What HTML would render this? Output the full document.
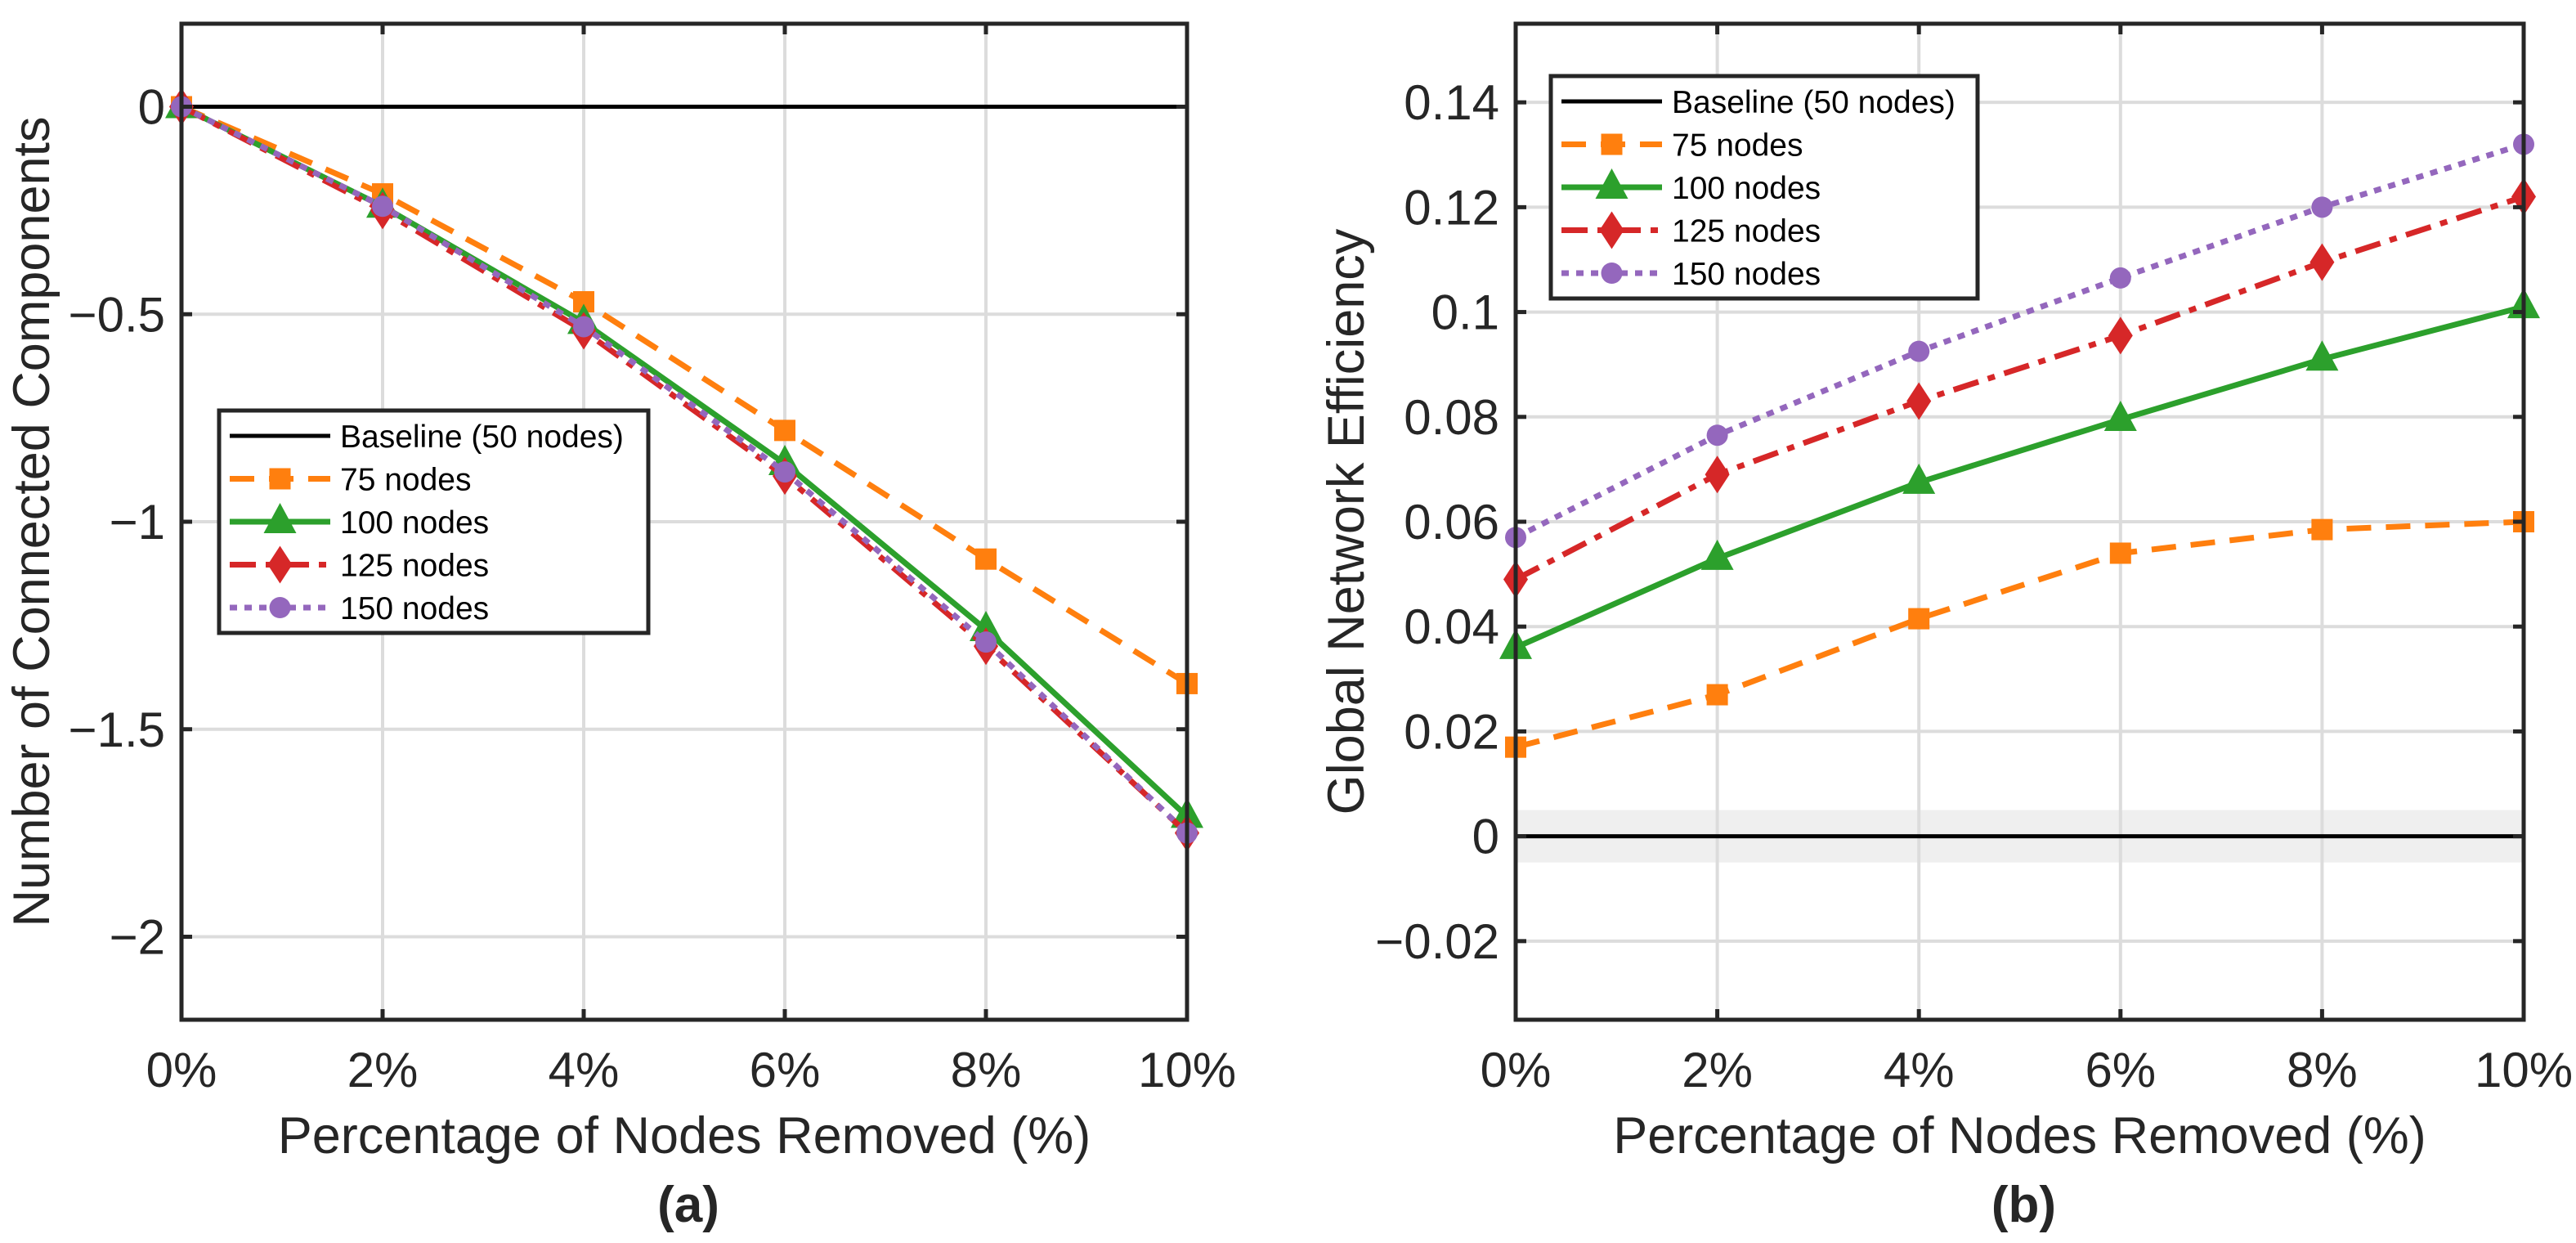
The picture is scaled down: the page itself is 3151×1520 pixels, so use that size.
<!DOCTYPE html>
<html><head><meta charset="utf-8"><style>
html,body{margin:0;padding:0;background:#fff}
svg{display:block;font-family:"Liberation Sans",Arial,sans-serif}
</style></head><body>
<svg id="fig" width="3151" height="1520" viewBox="0 0 3151 1520" xmlns="http://www.w3.org/2000/svg"></svg>
<script>
const xCats = [0, 2, 4, 6, 8, 10];
const xTickLabels = ['0%','2%','4%','6%','8%','10%'];
const seriesNames = ['75 nodes','100 nodes','125 nodes','150 nodes'];
// Panel (a)
const aTicks = [0, -0.5, -1, -1.5, -2];
const aTickLabels = ['0','\u22120.5','\u22121','\u22121.5','\u22122'];
const a75 = [0, -0.21, -0.47, -0.78, -1.09, -1.39];
const a100 = [0, -0.24, -0.52, -0.86, -1.26, -1.71];
const a125 = [0, -0.25, -0.54, -0.89, -1.30, -1.75];
const a150 = [0, -0.24, -0.53, -0.88, -1.29, -1.75];
// Panel (b)
const bTicks = [0.14, 0.12, 0.1, 0.08, 0.06, 0.04, 0.02, 0, -0.02];
const bTickLabels = ['0.14','0.12','0.1','0.08','0.06','0.04','0.02','0','\u22120.02'];
const b75 = [0.017, 0.027, 0.0415, 0.054, 0.0585, 0.060];
const b100 = [0.036, 0.053, 0.0675, 0.0795, 0.091, 0.101];
const b125 = [0.049, 0.069, 0.083, 0.0955, 0.1095, 0.122];
const b150 = [0.057, 0.0765, 0.0925, 0.1065, 0.120, 0.132];

const NS='http://www.w3.org/2000/svg';
const svg=document.getElementById('fig');
function mk(tag,attrs,parent){const e=document.createElementNS(NS,tag);for(const k in attrs)e.setAttribute(k,attrs[k]);(parent||svg).appendChild(e);return e;}
const styles=[
 {color:'#ff7f0e',dash:'30 18',marker:'square'},
 {color:'#2ca02c',dash:'',marker:'triangle'},
 {color:'#d62728',dash:'32 12 9 12',marker:'diamond'},
 {color:'#9467bd',dash:'9 9',marker:'circle'}];
function marker(g,type,x,y,color){
 let e;
 if(type==='square') e=mk('rect',{x:x-13,y:y-13,width:26,height:26,fill:color},g);
 else if(type==='triangle') e=mk('polygon',{points:`${x},${y-23} ${x-20},${y+14} ${x+20},${y+14}`,fill:color},g);
 else if(type==='diamond') e=mk('polygon',{points:`${x},${y-23} ${x-15},${y} ${x},${y+23} ${x+15},${y}`,fill:color},g);
 else e=mk('circle',{cx:x,cy:y,r:13,fill:color},g);
 
 
}
function panel(opt){
 const {L,R,T,B,ymin,ymax,ticks,tickLabels,series,ylabel,tag,legX,legY,legW,band,name}=opt;
 const g=mk('g',{});
 
 
 const sx=v=>L+(v-0)/(10-0)*(R-L);
 const sy=v=>T+(ymax-v)/(ymax-ymin)*(B-T);
 if(band){const r=mk('rect',{x:L,y:sy(band),width:R-L,height:sy(-band)-sy(band),fill:'#efefef'},g);
  }
 xCats.forEach(c=>{const l=mk('line',{x1:sx(c),x2:sx(c),y1:T,y2:B,stroke:'#dcdcdc','stroke-width':4},g);
  });
 ticks.forEach(t=>{const l=mk('line',{x1:L,x2:R,y1:sy(t),y2:sy(t),stroke:'#dcdcdc','stroke-width':4},g);
  });
 const bl=mk('line',{x1:L,x2:R,y1:sy(0),y2:sy(0),stroke:'#000','stroke-width':5},g);
 
 series.forEach((vals,i)=>{
  const st=styles[i];
  const pts=vals.map((v,j)=>sx(xCats[j])+','+sy(v)).join(' ');
  const pl=mk('polyline',{points:pts,fill:'none',stroke:st.color,'stroke-width':7,'stroke-dasharray':st.dash,'stroke-linejoin':'round'},g);
  
  
  vals.forEach((v,j)=>marker(g,st.marker,sx(xCats[j]),sy(v),st.color));
 });
 const bx=mk('rect',{x:L,y:T,width:R-L,height:B-T,fill:'none',stroke:'#262626','stroke-width':5},g);
 
 xCats.forEach((c,i)=>{
  mk('line',{x1:sx(c),x2:sx(c),y1:B,y2:B-13,stroke:'#262626','stroke-width':5},g);
  mk('line',{x1:sx(c),x2:sx(c),y1:T,y2:T+13,stroke:'#262626','stroke-width':5},g);
  const t=mk('text',{x:sx(c),y:B+82,'font-size':60,fill:'#262626','text-anchor':'middle'},g);
  t.textContent=xTickLabels[i];
  
 });
 ticks.forEach((v,i)=>{
  mk('line',{x1:L,x2:L+13,y1:sy(v),y2:sy(v),stroke:'#262626','stroke-width':5},g);
  mk('line',{x1:R,x2:R-13,y1:sy(v),y2:sy(v),stroke:'#262626','stroke-width':5},g);
  const t=mk('text',{x:L-20,y:sy(v)+21,'font-size':60,fill:'#262626','text-anchor':'end'},g);
  t.textContent=tickLabels[i];
  
 });
 const xt=mk('text',{x:(L+R)/2,y:1410,'font-size':63,fill:'#262626','text-anchor':'middle'},g);
 xt.textContent='Percentage of Nodes Removed (%)';
 
 const yt=mk('text',{x:0,y:0,'font-size':63,fill:'#262626','text-anchor':'middle',transform:`translate(${opt.ylx},${(T+B)/2}) rotate(-90)`},g);
 yt.textContent=ylabel;
 
 const pt=mk('text',{x:(L+R)/2+5,y:1494,'font-size':62,'font-weight':'bold',fill:'#262626','text-anchor':'middle'},g);
 pt.textContent=tag;
 
 const lg=mk('g',{},g);
 
 mk('rect',{x:legX,y:legY,width:legW,height:272,fill:'#fff',stroke:'#262626','stroke-width':5},lg);
 const names=['Baseline (50 nodes)'].concat(seriesNames);
 names.forEach((n,i)=>{
  const e=mk('g',{},lg);
  
  const y=legY+31+i*52.5;
  const x1=legX+13,x2=legX+136;
  if(i===0){mk('line',{x1,x2,y1:y,y2:y,stroke:'#000','stroke-width':5},e);}
  else{const st=styles[i-1];
   mk('line',{x1,x2,y1:y,y2:y,stroke:st.color,'stroke-width':7,'stroke-dasharray':st.dash},e);
   marker(e,st.marker,(x1+x2)/2,y,st.color);}
  const t=mk('text',{x:legX+148,y:y+14,'font-size':39,fill:'#000'},e);
  t.textContent=n;
 });
}
panel({name:'panel-a',L:222,R:1452,T:29,B:1247,ymin:-2.2,ymax:0.2,ticks:aTicks,tickLabels:aTickLabels,
 series:[a75,a100,a125,a150],ylabel:'Number of Connected Components',tag:'(a)',legX:268,legY:502,legW:525,ylx:60});
panel({name:'panel-b',L:1854,R:3087,T:29,B:1247,ymin:-0.035,ymax:0.155,ticks:bTicks,tickLabels:bTickLabels,
 series:[b75,b100,b125,b150],ylabel:'Global Network Efficiency',tag:'(b)',legX:1897,legY:93,legW:522,ylx:1668,band:0.005});
</script>
</body></html>
